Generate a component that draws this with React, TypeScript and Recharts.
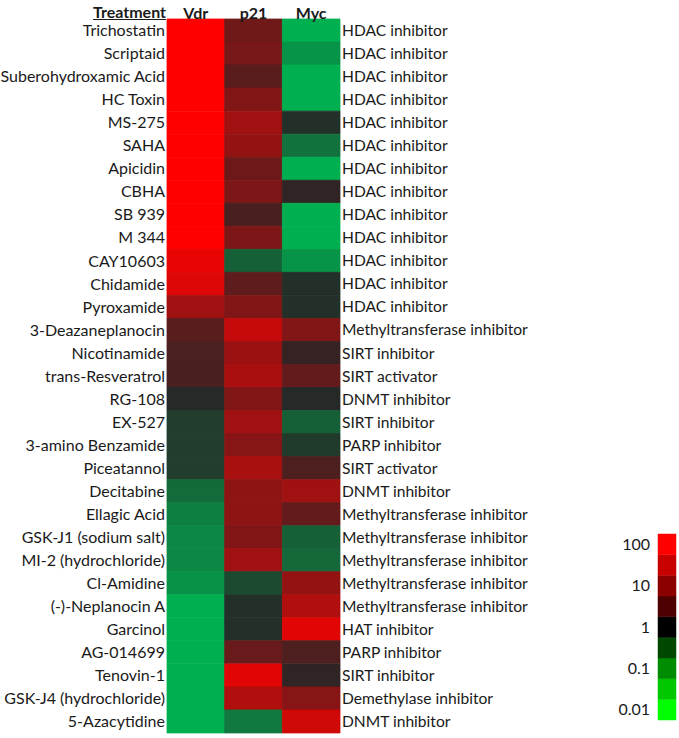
import { Bar, BarChart, Cell, XAxis, YAxis } from "recharts";

const treatments = [
  "Trichostatin", "Scriptaid", "Suberohydroxamic Acid", "HC Toxin", "MS-275", "SAHA",
  "Apicidin", "CBHA", "SB 939", "M 344", "CAY10603", "Chidamide", "Pyroxamide",
  "3-Deazaneplanocin", "Nicotinamide", "trans-Resveratrol", "RG-108", "EX-527",
  "3-amino Benzamide", "Piceatannol", "Decitabine", "Ellagic Acid", "GSK-J1 (sodium salt)",
  "MI-2 (hydrochloride)", "Cl-Amidine", "(-)-Neplanocin A", "Garcinol", "AG-014699",
  "Tenovin-1", "GSK-J4 (hydrochloride)", "5-Azacytidine",
];

const classes = [
  "HDAC inhibitor", "HDAC inhibitor", "HDAC inhibitor", "HDAC inhibitor", "HDAC inhibitor",
  "HDAC inhibitor", "HDAC inhibitor", "HDAC inhibitor", "HDAC inhibitor", "HDAC inhibitor",
  "HDAC inhibitor", "HDAC inhibitor", "HDAC inhibitor", "Methyltransferase inhibitor",
  "SIRT inhibitor", "SIRT activator", "DNMT inhibitor", "SIRT inhibitor", "PARP inhibitor",
  "SIRT activator", "DNMT inhibitor", "Methyltransferase inhibitor", "Methyltransferase inhibitor",
  "Methyltransferase inhibitor", "Methyltransferase inhibitor", "Methyltransferase inhibitor",
  "HAT inhibitor", "PARP inhibitor", "SIRT inhibitor", "Demethylase inhibitor", "DNMT inhibitor",
];

// scaled response, -1 (strongest down) .. 1 (strongest up)
const vdr = [
  1, 1, 1, 1, 1, 1, 1, 1, 1, 1, 0.9, 0.85, 0.56, 0.24, 0.17, 0.16, -0.02, -0.17, -0.17,
  -0.17, -0.5, -0.65, -0.72, -0.72, -0.78, -1, -1, -1, -1, -1, -1,
];
const p21 = [
  0.34, 0.38, 0.24, 0.42, 0.56, 0.5, 0.33, 0.4, 0.16, 0.4, -0.42, 0.26, 0.42, 0.73, 0.54,
  0.61, 0.42, 0.56, 0.45, 0.6, 0.48, 0.48, 0.42, 0.56, -0.26, -0.07, -0.07, 0.31, 0.86,
  0.64, -0.6,
];
const myc = [
  -1, -0.8, -1, -1, -0.07, -0.55, -1, 0.05, -1, -1, -0.8, -0.07, -0.07, 0.42, 0.07, 0.28,
  -0.02, -0.42, -0.15, 0.18, 0.56, 0.28, -0.42, -0.48, 0.5, 0.64, 0.86, 0.18, 0.05, 0.45,
  0.78,
];

const markers = ["Vdr", "p21", "Myc"];
const legendLabels = ["0.01", "0.1", "1", "10", "100"];
const legendColors = [
  "#00FF00", "#00C800", "#008C00", "#004800", "#000000",
  "#4C0000", "#8C0000", "#C80000", "#FF0000",
];

const data = treatments.map((name, i) => ({
  name,
  cls: classes[i],
  Vdr: vdr[i],
  p21: p21[i],
  Myc: myc[i],
}));

const FONT = "Lato, 'Open Sans', sans-serif";
const TEXT = "#1a1a1a";

// green (#00B050) -> dark grey (#262626) -> red (#FF0000)
const heat = (s: number) => {
  const mid = 38;
  let r, g, b;
  if (s >= 0) {
    r = mid + (255 - mid) * s;
    g = mid - mid * s;
    b = mid - mid * s;
  } else {
    const u = -s;
    r = mid - mid * u;
    g = mid + (176 - mid) * u;
    b = mid + (80 - mid) * u;
  }
  return `rgb(${Math.round(r)},${Math.round(g)},${Math.round(b)})`;
};

const legendRow = [Object.fromEntries(legendColors.map((_, i) => ["s" + i, 1]))];

export default function App() {
  return (
    <div style={{ position: "absolute", left: 0, top: 0, width: 679, height: 738, background: "#fff", fontFamily: FONT }}>
      <span
        style={{
          position: "absolute",
          right: 679 - 166,
          top: 3,
          fontSize: 16,
          lineHeight: "18px",
          fontWeight: 700,
          textDecoration: "underline",
          color: TEXT,
        }}
      >
        Treatment
      </span>
      <BarChart
        width={679}
        height={738}
        data={data}
        layout="vertical"
        barCategoryGap={0}
        margin={{ top: 0, right: 0, bottom: 5, left: 0 }}
      >
        <XAxis
          type="number"
          orientation="top"
          domain={[0, 3]}
          ticks={[0.5, 1.5, 2.5]}
          tickFormatter={(v: number) => markers[Math.floor(v)]}
          height={19}
          axisLine={false}
          tickLine={false}
          tickSize={0}
          tickMargin={0}
          tick={{ fontSize: 16, fontWeight: 700, fill: TEXT, fontFamily: FONT }}
        />
        <YAxis
          type="category"
          dataKey="name"
          width={167}
          axisLine={false}
          tickLine={false}
          tickSize={0}
          tickMargin={2}
          interval={0}
          tick={{ fontSize: 16, fill: TEXT, fontFamily: FONT }}
        />
        <YAxis
          yAxisId="right"
          type="category"
          dataKey="cls"
          orientation="right"
          width={339}
          axisLine={false}
          tickLine={false}
          tickSize={0}
          tickMargin={2}
          interval={0}
          tick={{ fontSize: 15.6, fill: TEXT, fontFamily: FONT, textAnchor: "start" }}
        />
        {markers.map((m) => (
          <Bar key={m} dataKey={() => 1} stackId="heat" isAnimationActive={false}>
            {data.map((row, i) => (
              <Cell key={i} fill={heat(row[m as "Vdr"])} stroke={heat(row[m as "Vdr"])} strokeWidth={0.8} />
            ))}
          </Bar>
        ))}
      </BarChart>
      <div style={{ position: "absolute", left: 600, top: 520 }}>
        <BarChart
          width={79}
          height={210}
          data={legendRow}
          barCategoryGap={0}
          margin={{ top: 14, right: 3, bottom: 10, left: 0 }}
        >
          <XAxis hide />
          <YAxis
            type="number"
            domain={[0, 9]}
            ticks={[0.5, 2.5, 4.5, 6.5, 8.5]}
            tickFormatter={(v: number) => legendLabels[Math.floor(v / 2)]}
            width={58}
            axisLine={false}
            tickLine={false}
            tickSize={0}
            tickMargin={8}
            tick={{ fontSize: 16, fill: TEXT, fontFamily: FONT }}
          />
          {legendColors.map((c, i) => (
            <Bar key={i} dataKey={"s" + i} stackId="lg" fill={c} stroke={c} strokeWidth={0.5} isAnimationActive={false} />
          ))}
        </BarChart>
      </div>
    </div>
  );
}
